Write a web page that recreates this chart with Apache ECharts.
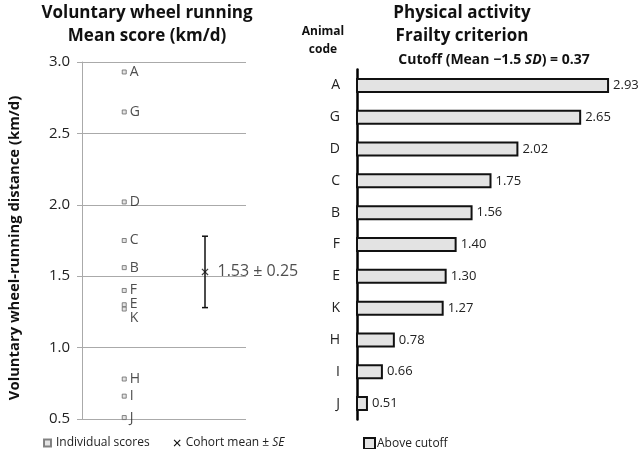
<!DOCTYPE html>
<html><head><meta charset="utf-8">
<script src="https://cdn.jsdelivr.net/npm/echarts@6/dist/echarts.min.js"></script>
<style>html,body{margin:0;padding:0;background:#fff}#c{width:640px;height:449px}</style>
</head><body><div id="c"></div>
<script>
const scoreNames = ['A','G','D','C','B','F','E','K','H','I','J'];
const scoreValues = [2.93,2.65,2.02,1.75,1.56,1.40,1.30,1.27,0.78,0.66,0.51];
const cohortMean = 1.53;
const cohortSE = 0.25;
const yTicks = [0.5,1.0,1.5,2.0,2.5,3.0];
const cutoff = 0.37;

const FONT = 'Open Sans';
const chart = echarts.init(document.getElementById('c'));
const crossIcon = 'path://M0,1.2L1.2,0L5,3.8L8.8,0L10,1.2L6.2,5L10,8.8L8.8,10L5,6.2L1.2,10L0,8.8L3.8,5Z';

chart.setOption({
  animation:false,
  textStyle:{fontFamily:FONT},
  title:[
    {text:'Voluntary wheel running\nMean score (km/d)', left:142, top:-3, textAlign:'center',
     textStyle:{fontSize:17, fontWeight:'bold', color:'#111', lineHeight:23, fontFamily:FONT}},
    {text:'Physical activity\nFrailty criterion', left:457, top:-3, textAlign:'center',
     textStyle:{fontSize:17, fontWeight:'bold', color:'#111', lineHeight:23, fontFamily:FONT}},
    {text:'Animal\ncode', left:318, top:18, textAlign:'center',
     textStyle:{fontSize:12, fontWeight:'bold', color:'#111', lineHeight:18, fontFamily:FONT}},
    {text:'Cutoff (Mean \u22121.5 {i|SD}) = ' + cutoff.toFixed(2), left:489, top:48, textAlign:'center',
     textStyle:{fontSize:14, fontWeight:'bold', color:'#111', fontFamily:FONT,
       rich:{i:{fontStyle:'italic', fontWeight:'bold', fontSize:14, fontFamily:FONT}}}}
  ],
  legend:[
    {left:38, top:432, itemWidth:7, itemHeight:7, itemGap:24, selectedMode:false,
     data:[{name:'Individual scores', icon:'rect'},{name:'Cohort mean ± SE', icon:crossIcon}],
     formatter:function(n){return n==='Cohort mean ± SE' ? 'Cohort mean ± {i|SE}' : n;},
     textStyle:{fontSize:12, color:'#222', fontFamily:FONT, rich:{i:{fontStyle:'italic', fontSize:12, fontFamily:FONT}}}},
    {left:358, top:432, itemWidth:11, itemHeight:11, itemGap:4, selectedMode:false,
     data:[{name:'Above cutoff', icon:'rect'}],
     textStyle:{fontSize:12, color:'#222', fontFamily:FONT, padding:[0,0,0,-3]}}
  ],
  grid:[
    {left:82, right:394, top:62, bottom:30},
    {left:357, right:14, top:69.5, bottom:29.5}
  ],
  xAxis:[
    {gridIndex:0, type:'value', min:0, max:4, show:false},
    {gridIndex:1, type:'value', min:0.4, max:3.1, show:false}
  ],
  yAxis:[
    {gridIndex:0, type:'value', min:0.5, max:3.0, interval:0.5,
     axisLine:{show:true, lineStyle:{color:'#aaa', width:1}},
     axisTick:{show:true, length:5, lineStyle:{color:'#aaa'}},
     splitLine:{show:true, lineStyle:{color:'#aaa', width:1.2}},
     axisLabel:{fontSize:15, color:'#222', margin:12, fontFamily:FONT, formatter:v=>v.toFixed(1)}},
    {gridIndex:1, type:'category', data:scoreNames, inverse:true,
     axisLine:{show:true, lineStyle:{color:'#000', width:2.5}},
     axisTick:{show:false},
     axisLabel:{fontSize:14, color:'#222', margin:17, fontFamily:FONT}}
  ],
  graphic:[
    {type:'text', x:15, y:248, rotation:Math.PI/2,
     style:{text:'Voluntary wheel-running distance (km/d)', align:'center', verticalAlign:'middle',
       fontSize:14.8, fontWeight:'bold', fill:'#111', fontFamily:FONT}}
  ],
  series:[
    {name:'Individual scores', type:'scatter', xAxisIndex:0, yAxisIndex:0,
     symbol:'rect', symbolSize:4,
     itemStyle:{color:'#ddd', borderColor:'#666', borderWidth:1},
     data:scoreNames.map((n,i)=>({value:[1.03, scoreValues[i]], name:n,
       label:{show:true, position:'right', distance:3, formatter:n, fontSize:14, color:'#222', fontFamily:FONT,
              offset: n==='K' ? [0,9] : (n==='E' ? [0,-1] : [0,0])}}))},
    {name:'Cohort mean ± SE', type:'custom', xAxisIndex:0, yAxisIndex:0,
     itemStyle:{color:'#111'},
     data:[[3, cohortMean - cohortSE, cohortMean + cohortSE]],
     renderItem:function(params, api){
       const lo = api.coord([api.value(0), api.value(1)]);
       const hi = api.coord([api.value(0), api.value(2)]);
       const st = {stroke:'#111', lineWidth:1.5};
       return {type:'group', children:[
         {type:'line', shape:{x1:lo[0], y1:lo[1], x2:hi[0], y2:hi[1]}, style:st},
         {type:'line', shape:{x1:lo[0]-3, y1:lo[1], x2:lo[0]+3, y2:lo[1]}, style:st},
         {type:'line', shape:{x1:hi[0]-3, y1:hi[1], x2:hi[0]+3, y2:hi[1]}, style:st}
       ]};
     }},
    {name:'Cohort mean ± SE', type:'scatter', xAxisIndex:0, yAxisIndex:0,
     symbol:crossIcon, symbolSize:7, itemStyle:{color:'#111'},
     data:[[3, cohortMean]],
     label:{show:true, position:'right', distance:9, fontSize:16, color:'#222', fontFamily:FONT,
       formatter:cohortMean.toFixed(2) + ' ± ' + cohortSE.toFixed(2)}},
    {name:'Above cutoff', type:'bar', xAxisIndex:1, yAxisIndex:1, barWidth:15, clip:true,
     itemStyle:{color:'#e3e3e3', borderColor:'#111', borderWidth:2},
     label:{show:true, position:'right', distance:4, fontSize:13, color:'#222', fontFamily:FONT,
       formatter:p=>p.value.toFixed(2)},
     data:scoreValues}
  ]
});
</script></body></html>
